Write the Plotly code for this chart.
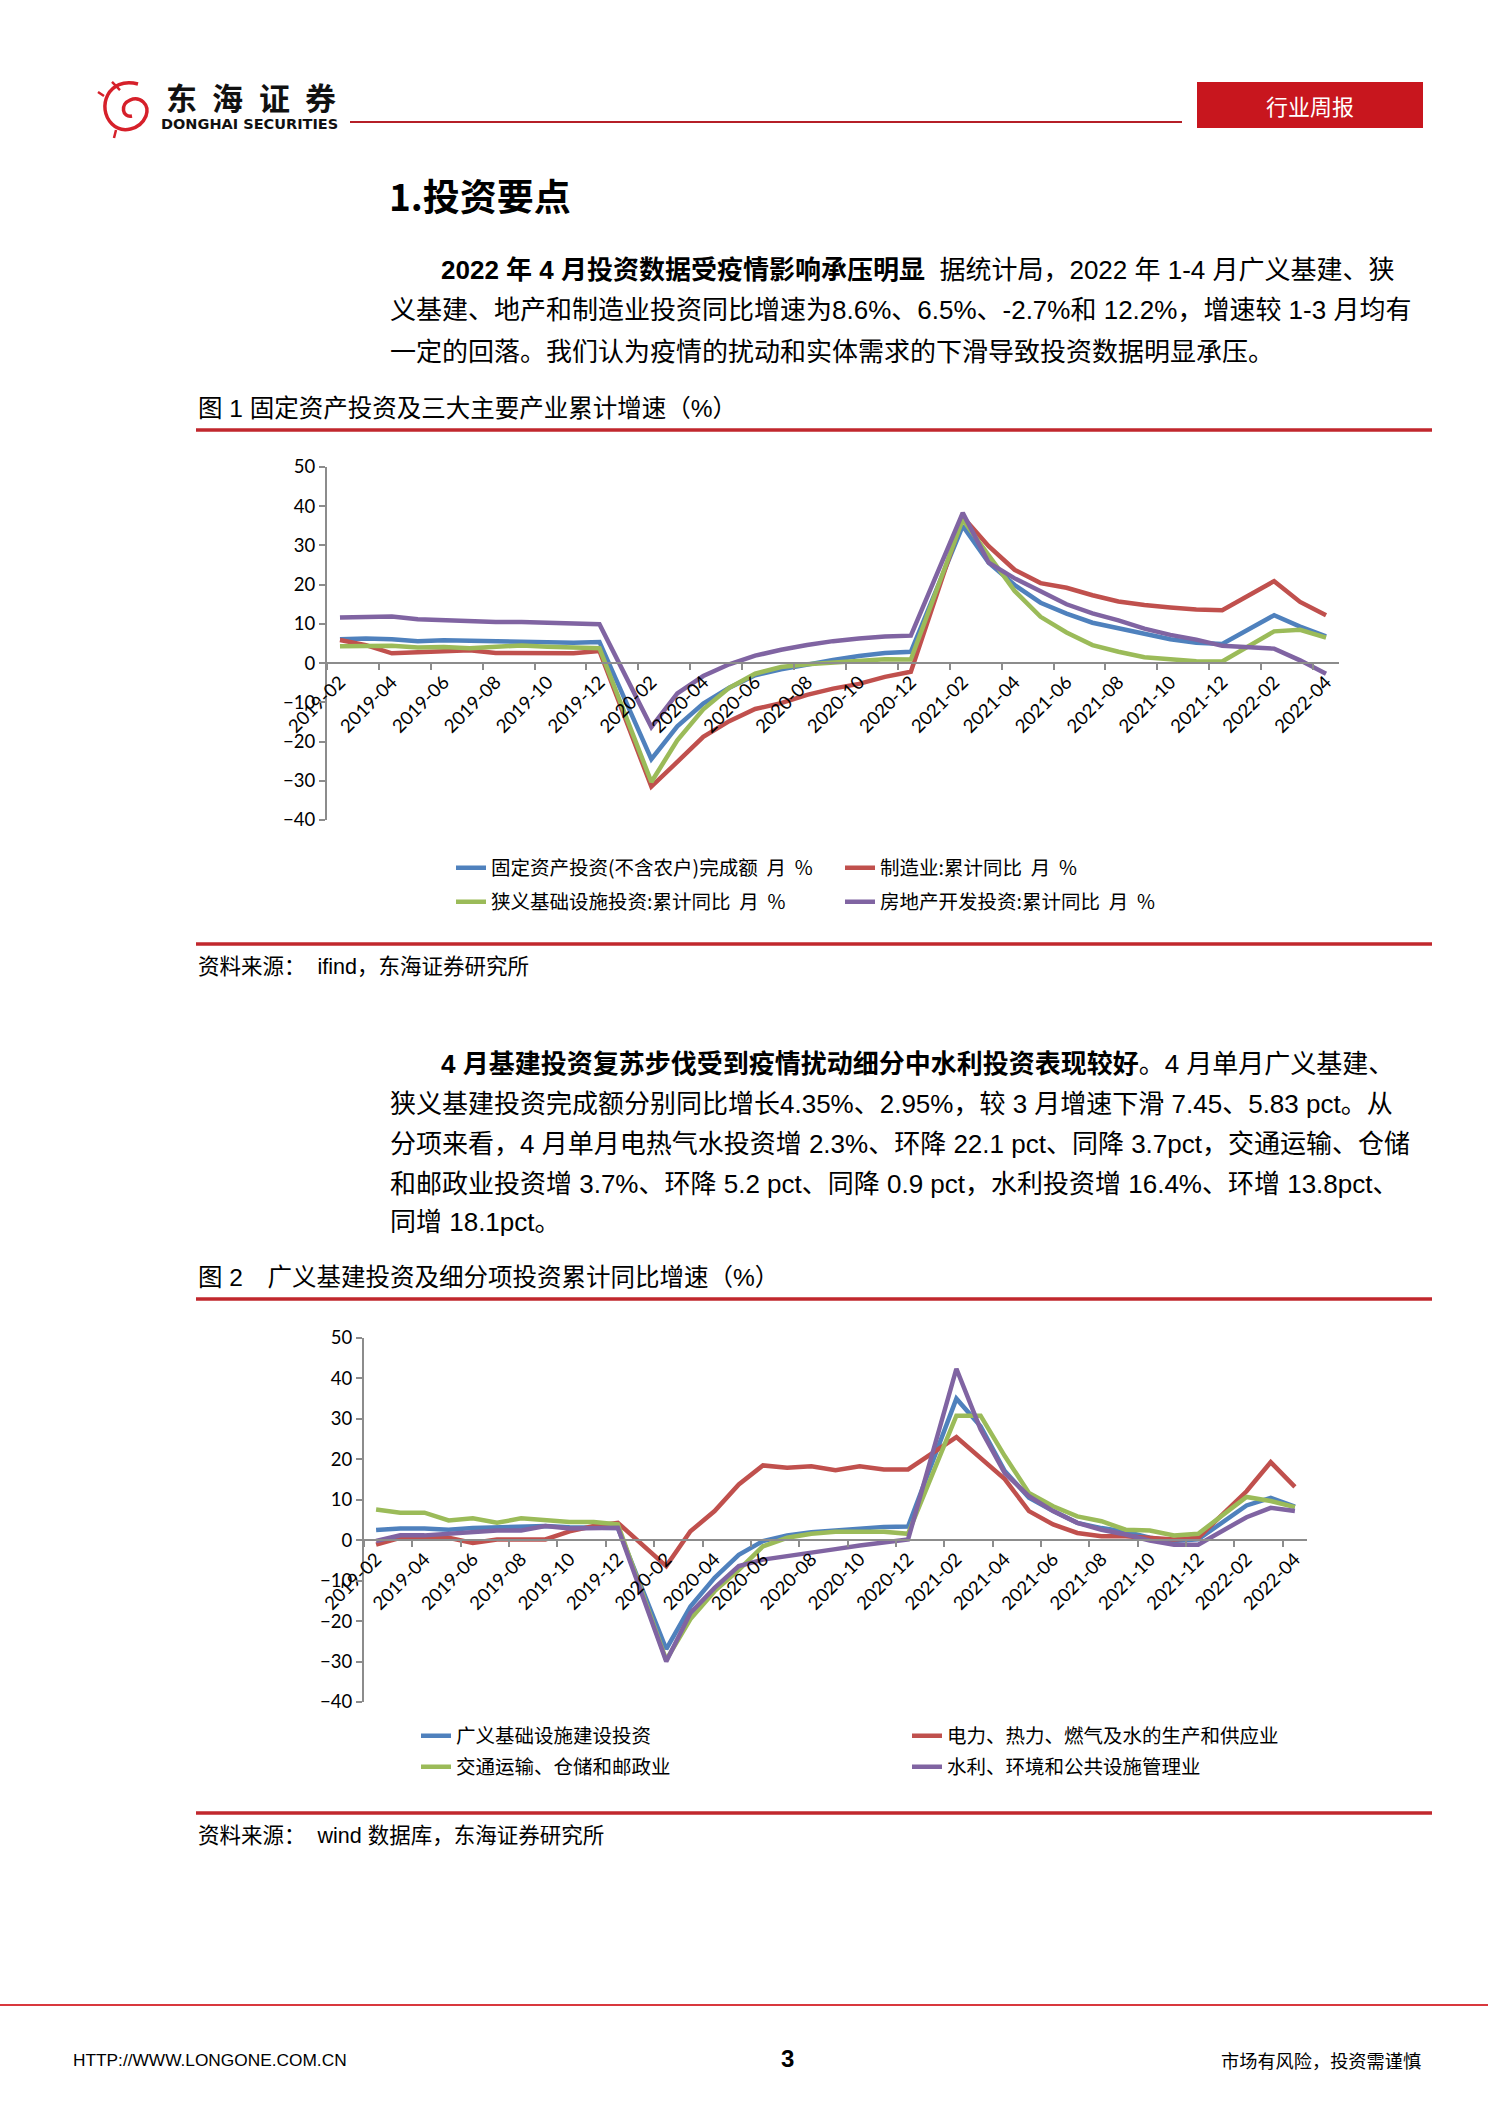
import plotly.graph_objects as go

W, H = 1488, 2105
CJK = "Noto Sans CJK SC"
TXT = "Liberation Sans, Noto Sans CJK SC"
NUM = "Lato, Noto Sans CJK SC"
GRAY = "#8C8C8C"
RED = "#C1272D"

# ---------------- data ----------------
months = ["2019-02", "2019-03", "2019-04", "2019-05", "2019-06", "2019-07", "2019-08",
          "2019-09", "2019-10", "2019-11", "2019-12", "2020-01", "2020-02", "2020-03",
          "2020-04", "2020-05", "2020-06", "2020-07", "2020-08", "2020-09", "2020-10",
          "2020-11", "2020-12", "2021-01", "2021-02", "2021-03", "2021-04", "2021-05",
          "2021-06", "2021-07", "2021-08", "2021-09", "2021-10", "2021-11", "2021-12",
          "2022-01", "2022-02", "2022-03", "2022-04"]

# Figure 1
fai = [6.1, 6.3, 6.1, 5.6, 5.8, 5.7, 5.5, 5.4, 5.2, 5.2, 5.4, None,
       -24.5, -16.1, -10.3, -6.3, -3.1, -1.6, -0.3, 0.8, 1.8, 2.6, 2.9, None,
       35.0, 25.6, 19.9, 15.4, 12.6, 10.3, 8.9, 7.3, 6.1, 5.2, 4.9, None,
       12.2, 9.3, 6.8]
mfg = [5.9, 4.6, 2.5, 2.7, 3.0, 3.3, 2.6, 2.5, 2.6, 2.5, 3.1, None,
       -31.5, -25.2, -18.8, -14.8, -11.7, -10.2, -8.1, -6.5, -5.3, -3.5, -2.2, None,
       37.3, 29.8, 23.8, 20.4, 19.2, 17.3, 15.7, 14.8, 14.2, 13.7, 13.5, None,
       20.9, 15.6, 12.2]
infra_narrow = [4.3, 4.4, 4.4, 4.0, 4.1, 3.8, 4.2, 4.5, 4.2, 4.0, 3.8, None,
                -30.3, -19.7, -11.8, -6.3, -2.7, -1.0, -0.3, 0.2, 0.7, 1.0, 0.9, None,
                36.6, 27.5, 18.4, 11.8, 7.8, 4.6, 2.9, 1.5, 1.0, 0.5, 0.4, None,
                8.1, 8.5, 6.5]
realestate = [11.6, 11.8, 11.9, 11.2, 10.9, 10.6, 10.5, 10.5, 10.3, 10.2, 9.9, None,
              -16.3, -7.7, -3.3, -0.3, 1.9, 3.4, 4.6, 5.6, 6.3, 6.8, 7.0, None,
              38.3, 25.6, 21.6, 18.3, 15.0, 12.7, 10.9, 8.8, 7.2, 6.0, 4.4, None,
              3.7, 0.7, -2.7]

# Figure 2
broad_infra = [2.5, 2.9, 2.9, 2.6, 3.0, 3.2, 3.2, 3.5, 3.2, 3.1, 3.0, None,
               -26.9, -16.4, -9.3, -3.6, -0.2, 1.2, 2.0, 2.4, 3.0, 3.3, 3.4, None,
               35.0, 28.2, 17.1, 10.5, 7.2, 4.3, 3.0, 2.1, 0.6, -0.2, 0.2, None,
               8.6, 10.5, 8.3]
power = [-1.1, 0.6, 0.6, 0.6, -0.7, 0.2, 0.2, 0.2, 2.2, 3.5, 4.3, None,
         -6.4, 2.2, 7.2, 13.8, 18.5, 17.9, 18.3, 17.3, 18.3, 17.5, 17.5, None,
         25.5, 20.4, 15.1, 7.2, 3.9, 1.8, 1.0, 1.0, 0.6, 0.2, 0.6, None,
         12.1, 19.3, 13.2]
transport = [7.6, 6.8, 6.8, 4.9, 5.4, 4.3, 5.4, 4.9, 4.5, 4.5, 3.9, None,
             -29.6, -19.5, -12.6, -7.3, -1.5, 0.6, 1.6, 2.1, 2.1, 2.1, 1.6, None,
             30.8, 30.8, 20.8, 11.7, 8.4, 5.9, 4.7, 2.6, 2.4, 1.2, 1.6, None,
             10.7, 9.7, 8.2]
water = [-0.2, 1.2, 1.2, 1.6, 2.2, 2.4, 2.4, 3.5, 2.9, 3.1, 3.1, None,
         -30.0, -18.0, -11.8, -6.4, -4.8, -4.0, -3.1, -2.2, -1.3, -0.6, 0.2, None,
         42.4, 27.4, 16.6, 10.9, 7.2, 4.3, 2.6, 1.4, -0.1, -1.1, -1.1, None,
         5.7, 8.0, 7.2]

names1 = ["固定资产投资(不含农户)完成额  月  %", "制造业:累计同比  月  %",
          "狭义基础设施投资:累计同比  月  %", "房地产开发投资:累计同比  月  %"]
names2 = ["广义基础设施建设投资", "电力、热力、燃气及水的生产和供应业",
          "交通运输、仓储和邮政业", "水利、环境和公共设施管理业"]
colors = ["#4F81BD", "#C0504D", "#9BBB59", "#8064A2"]
y_range = [-40, 50]


def px(x):
    return x / W


def py(y):
    return 1 - y / H


# legend entry anchor points (left edge of legend box, row centre), page pixels
leg1_pos = [(451, 868), (840, 868), (451, 902), (840, 902)]
leg2_pos = [(416, 1736), (907, 1736), (416, 1767), (907, 1767)]

xs = list(range(len(months)))
fig = go.Figure()
legend_layouts = {}
k = 0
for names, series, xa, ya, poss in [
        (names1, [fai, mfg, infra_narrow, realestate], "x", "y", leg1_pos),
        (names2, [broad_infra, power, transport, water], "x2", "y2", leg2_pos)]:
    for nm, ys, c, (lx, ly) in zip(names, series, colors, poss):
        k += 1
        lname = "legend" if k == 1 else f"legend{k}"
        fig.add_trace(go.Scatter(x=xs, y=ys, name=nm, mode="lines", connectgaps=True,
                                 line=dict(color=c, width=4.5), xaxis=xa, yaxis=ya,
                                 legend=lname))
        legend_layouts[lname] = dict(x=px(lx), y=py(ly), xanchor="left", yanchor="middle",
                                     orientation="v", bgcolor="rgba(0,0,0,0)",
                                     borderwidth=0,
                                     font=dict(size=19.5, family=CJK, color="#000"))


def xaxis_cfg(xdom, ydom):
    pos = ydom[0] + (0 - y_range[0]) / (y_range[1] - y_range[0]) * (ydom[1] - ydom[0])
    return dict(domain=xdom, range=[-0.5, len(months) - 0.5], anchor="free", position=pos,
                tickmode="array", tickvals=xs[::2], ticktext=months[::2], tickangle=-45,
                ticks="", showline=True, linecolor=GRAY, linewidth=2, showgrid=False,
                zeroline=False, automargin=False, fixedrange=True,
                minor=dict(tick0=-0.5, dtick=2, ticks="outside", ticklen=6,
                           tickcolor=GRAY, tickwidth=2, showgrid=False),
                tickfont=dict(size=18.5, family=NUM, color="#000"))


def yaxis_cfg(ydom, xa):
    return dict(domain=ydom, range=y_range, dtick=10, tick0=0, ticks="outside", ticklen=6,
                tickcolor=GRAY, tickwidth=2, showline=True, linecolor=GRAY, linewidth=2,
                showgrid=False, zeroline=False, automargin=False, fixedrange=True,
                anchor=xa, tickfont=dict(size=18.5, family=NUM, color="#000"))


yd1 = [py(820), py(467)]
yd2 = [py(1702), py(1338)]

fig.update_layout(
    width=W, height=H, autosize=False,
    margin=dict(l=0, r=0, t=0, b=0, autoexpand=False),
    paper_bgcolor="white", plot_bgcolor="white",
    xaxis=xaxis_cfg([px(327), px(1339)], yd1), yaxis=yaxis_cfg(yd1, "x"),
    xaxis2=xaxis_cfg([px(364), px(1307)], yd2), yaxis2=yaxis_cfg(yd2, "x2"),
    showlegend=True,
    **legend_layouts,
)


def txt(x, y, s, size, color="#000", family=TXT, xanchor="left"):
    fig.add_annotation(x=px(x), y=py(y), xref="paper", yref="paper", text=s,
                       showarrow=False, xanchor=xanchor, yanchor="middle",
                       font=dict(size=size, color=color, family=family))


def hline(x0, x1, y, width, color=RED):
    fig.add_shape(type="line", xref="paper", yref="paper", x0=px(x0), x1=px(x1),
                  y0=py(y), y1=py(y), line=dict(color=color, width=width))


def path(points_cmd):
    out = []
    for tok in points_cmd:
        if isinstance(tok, str):
            out.append(tok)
        else:
            out.append(f"{px(tok[0]):.5f},{py(tok[1]):.5f}")
    return " ".join(out)


# ---------------- header ----------------
fig.add_shape(type="path", xref="paper", yref="paper",
              path=path(["M", (138, 84), "C", (108, 76), (96, 108), (112, 124),
                         "C", (122, 134), (140, 130), (146, 116),
                         "C", (150, 104), (140, 96), (130, 100),
                         "C", (120, 104), (122, 118), (132, 116)]),
              line=dict(color="#D6202A", width=3.5))
fig.add_shape(type="path", xref="paper", yref="paper",
              path=path(["M", (112, 82), "L", (120, 90), "M", (104, 96), "L", (98, 92),
                         "M", (116, 130), "L", (114, 138)]),
              line=dict(color="#D6202A", width=2.5))
for ch, cx in zip("东海证券", [181, 227, 274, 320]):
    txt(cx, 97, f"<b>{ch}</b>", 31, "#111", CJK, "center")
txt(159, 124, "<b>DONGHAI SECURITIES</b>", 14.5, "#111", "DejaVu Sans")
hline(350, 1182, 122, 2.2, "#B51F27")
fig.add_shape(type="rect", xref="paper", yref="paper", x0=px(1197), x1=px(1423),
              y0=py(128), y1=py(82), fillcolor="#C8161E", line=dict(width=0))
txt(1310, 105, "行业周报", 22, "white", CJK, "center")

# ---------------- section 1 ----------------
fs = 26
txt(387, 195, "<b>1.投资要点</b>", 37, "#000", CJK)
txt(439, 270, "<b>2022 年 4 月投资数据受疫情影响承压明显</b>  据统计局，2022 年 1-4 月广义基建、狭", fs)
txt(388, 310, "义基建、地产和制造业投资同比增速为8.6%、6.5%、-2.7%和 12.2%，增速较 1-3 月均有", fs)
txt(388, 352, "一定的回落。我们认为疫情的扰动和实体需求的下滑导致投资数据明显承压。", fs)

txt(196, 408, "图 1 固定资产投资及三大主要产业累计增速（%）", 24.5)
hline(196, 1432, 430, 3.5)
hline(196, 1432, 944, 3.5)
txt(196, 967, "资料来源：  ifind，东海证券研究所", 21.5)

# ---------------- section 2 ----------------
txt(439, 1064, "<b>4 月基建投资复苏步伐受到疫情扰动细分中水利投资表现较好</b>。4 月单月广义基建、", fs)
txt(388, 1104, "狭义基建投资完成额分别同比增长4.35%、2.95%，较 3 月增速下滑 7.45、5.83 pct。从", fs)
txt(388, 1144, "分项来看，4 月单月电热气水投资增 2.3%、环降 22.1 pct、同降 3.7pct，交通运输、仓储", fs)
txt(388, 1184, "和邮政业投资增 3.7%、环降 5.2 pct、同降 0.9 pct，水利投资增 16.4%、环增 13.8pct、", fs)
txt(388, 1222, "同增 18.1pct。", fs)

txt(196, 1277, "图 2　广义基建投资及细分项投资累计同比增速（%）", 24.5)
hline(196, 1432, 1299, 3.5)
hline(196, 1432, 1813, 3.5)
txt(196, 1836, "资料来源：  wind 数据库，东海证券研究所", 21.5)

# ---------------- footer ----------------
hline(0, 1488, 2005, 2, "#D9383E")
txt(71, 2060, "HTTP://WWW.LONGONE.COM.CN", 17.3, "#000", "Liberation Sans")
txt(787, 2058, "<b>3</b>", 24, "#000", "Liberation Sans", "center")
txt(1423, 2060, "市场有风险，投资需谨慎", 18.2, "#000", CJK, "right")

fig.write_html("out.html")
